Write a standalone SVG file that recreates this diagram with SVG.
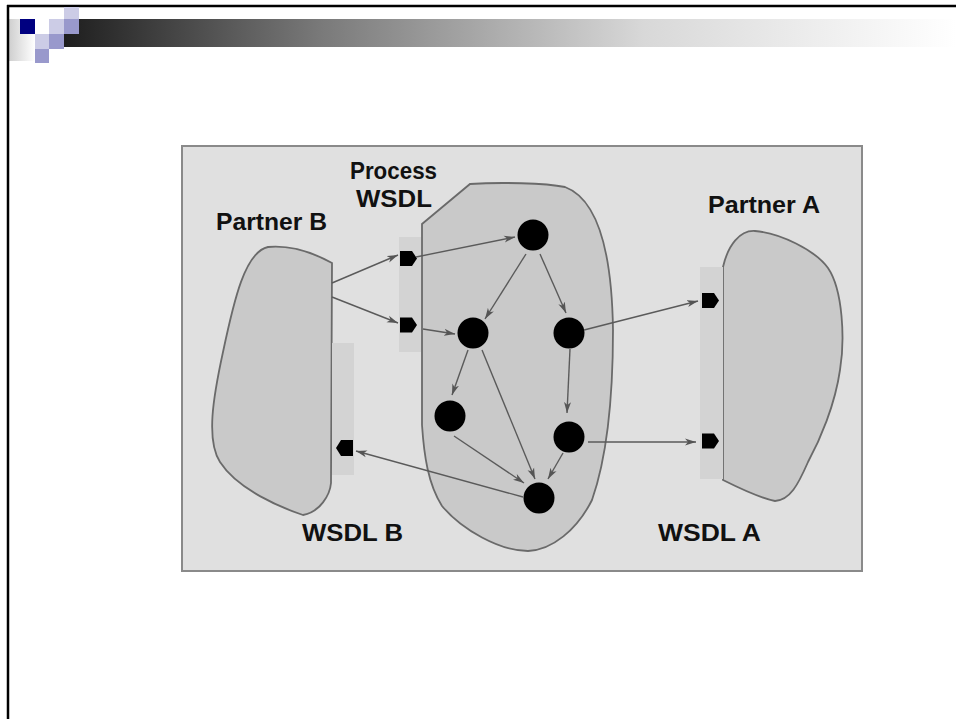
<svg xmlns="http://www.w3.org/2000/svg" width="956" height="719" viewBox="0 0 956 719">
<defs>
<linearGradient id="bar" x1="64" y1="0" x2="956" y2="0" gradientUnits="userSpaceOnUse">
<stop offset="0" stop-color="#1e1e1e"/>
<stop offset="0.29" stop-color="#7a7a7a"/>
<stop offset="0.65" stop-color="#d8d8d8"/>
<stop offset="1" stop-color="#ffffff"/>
</linearGradient>
<linearGradient id="lg" x1="0" y1="0" x2="1" y2="0">
<stop offset="0" stop-color="#cfcfcf"/>
<stop offset="1" stop-color="#ffffff"/>
</linearGradient>
<marker id="ah" markerWidth="12" markerHeight="8" refX="11" refY="4" orient="auto" markerUnits="userSpaceOnUse">
<path d="M0,0.5 L11,4 L0,7.5 L3,4 Z" fill="#555"/>
</marker>
<style>
.edge{stroke:#5a5a5a;stroke-width:1.4;fill:none;marker-end:url(#ah)}
.blob{fill:#c9c9c9;stroke:#6a6a6a;stroke-width:1.8}
.strip{fill:#d3d3d3}
.port{fill:#000}
.node{fill:#000}
.lbl{font-family:"Liberation Sans",Arial,sans-serif;font-weight:bold;font-size:23px;fill:#111}
</style>
</defs>
<rect x="0" y="0" width="956" height="719" fill="#fff"/>
<g id="frame">
<rect x="9" y="19" width="26" height="42" fill="url(#lg)"/>
<rect x="64" y="19" width="892" height="28" fill="url(#bar)"/>
<line x1="7" y1="6" x2="956" y2="6" stroke="#000" stroke-width="2.5"/>
<line x1="8" y1="5" x2="8" y2="719" stroke="#000" stroke-width="2.5"/>
<rect x="20" y="19" width="15" height="15" fill="#000080"/>
<rect x="64" y="7" width="15" height="12" fill="#ccccE6"/>
<rect x="49" y="19" width="15" height="15" fill="#ccccE6"/>
<rect x="64" y="19" width="15" height="15" fill="#9999cc"/>
<rect x="35" y="34" width="14" height="15" fill="#ccccE6"/>
<rect x="49" y="34" width="15" height="15" fill="#9999cc"/>
<rect x="35" y="49" width="14" height="14" fill="#9999cc"/>
</g>
<g id="panel">
<rect x="182" y="146" width="680" height="425" fill="#e0e0e0" stroke="#8a8a8a" stroke-width="2"/>
</g>
<g id="partnerB">
<path class="blob" d="M332,263 C312,252 290,245 268,247 C245,252 234,300 223,352 C213,398 206,440 220,462 C238,490 282,508 303,515 C320,512 330,495 331,483 Z"/>
<text class="lbl" x="216" y="230" textLength="111" lengthAdjust="spacingAndGlyphs">Partner B</text>
</g>
<g id="wsdlB">
<rect class="strip" x="332" y="343" width="22" height="132"/>
<path class="port" d="M353,440 L341,440 L336,448 L341,456 L353,456 Z"/>
<text class="lbl" x="302" y="541" textLength="101" lengthAdjust="spacingAndGlyphs">WSDL B</text>
</g>
<g id="processWSDL">
<rect class="strip" x="399" y="237" width="22" height="115"/>
<path class="port" d="M400,251 L412,251 L417,258.5 L412,266 L400,266 Z"/>
<path class="port" d="M400,317.5 L412,317.5 L417,325 L412,332.5 L400,332.5 Z"/>
<text class="lbl" x="350" y="179" textLength="87" lengthAdjust="spacingAndGlyphs">Process</text>
<text class="lbl" x="356" y="207" textLength="76" lengthAdjust="spacingAndGlyphs">WSDL</text>
</g>
<g id="process">
<path class="blob" d="M422,224 L470,184 C500,182 545,183 565,187 C600,200 612,260 613,330 C613,400 606,460 592,500 C577,530 552,550 528,551 C500,551 462,530 442,506 C428,484 424,455 422,425 Z"/>
</g>
<g id="partnerA">
<path class="blob" d="M723,267 C728,245 740,230 755,231 C780,233 815,250 828,268 C843,290 845,340 840,370 C835,405 820,440 808,462 C798,485 790,500 775,501 C760,498 735,486 723,480 Z"/>
<text class="lbl" x="708" y="213" textLength="112" lengthAdjust="spacingAndGlyphs">Partner A</text>
</g>
<g id="wsdlA">
<rect class="strip" x="700" y="267" width="23" height="212"/>
<path class="port" d="M702,293 L714,293 L719,300.5 L714,308 L702,308 Z"/>
<path class="port" d="M702,433.5 L714,433.5 L719,441 L714,448.5 L702,448.5 Z"/>
<text class="lbl" x="658" y="541" textLength="103" lengthAdjust="spacingAndGlyphs">WSDL A</text>
</g>
<g id="n1"><circle class="node" cx="533" cy="235" r="15.5"/></g>
<g id="n2"><circle class="node" cx="473" cy="333" r="15.5"/></g>
<g id="n3"><circle class="node" cx="569" cy="333" r="15.5"/></g>
<g id="n4"><circle class="node" cx="450" cy="416" r="15.5"/></g>
<g id="n5"><circle class="node" cx="569" cy="437" r="15.5"/></g>
<g id="n6"><circle class="node" cx="539" cy="498" r="15.5"/></g>
<g id="connectors">
<line class="edge" x1="332" y1="283" x2="398" y2="255"/>
<line class="edge" x1="332" y1="297" x2="398" y2="323"/>
<line class="edge" x1="416" y1="257" x2="515" y2="237"/>
<line class="edge" x1="423" y1="329" x2="455" y2="334"/>
<line class="edge" x1="526" y1="254" x2="485" y2="319"/>
<line class="edge" x1="540" y1="254" x2="566" y2="313"/>
<line class="edge" x1="468" y1="350" x2="452" y2="395"/>
<line class="edge" x1="482" y1="350" x2="535" y2="479"/>
<line class="edge" x1="570" y1="349" x2="567" y2="413"/>
<line class="edge" x1="454" y1="436" x2="524" y2="483"/>
<line class="edge" x1="563" y1="453" x2="548" y2="479"/>
<line class="edge" x1="523" y1="497" x2="356" y2="451"/>
<line class="edge" x1="584" y1="330" x2="698" y2="301"/>
<line class="edge" x1="588" y1="442" x2="696" y2="442"/>
</g>
</svg>
